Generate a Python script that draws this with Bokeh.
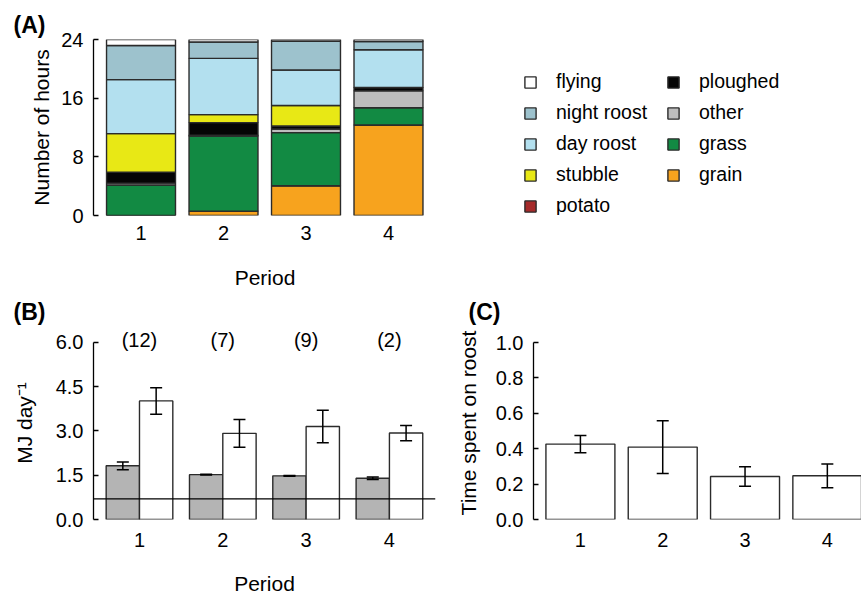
from bokeh.plotting import figure
from bokeh.models import (ColumnDataSource, FixedTicker, NumeralTickFormatter, Legend,
                          LegendItem, Whisker, TeeHead, Span, LabelSet)
from bokeh.core.properties import value
from bokeh.layouts import column, row
from bokeh.embed import file_html
from bokeh.resources import INLINE

FONT = "Liberation Sans"

# ---------------- data ----------------
periods = [1, 2, 3, 4]
period_ticks = [1, 2, 3, 4]

# Panel A: hours per habitat (stacked bottom -> top)
grain = [0.0, 0.6, 4.05, 12.35]
potato = [0.0, 0.0, 0.0, 0.0]
grass = [4.15, 10.25, 7.25, 2.35]
other = [0.27, 0.10, 0.50, 2.30]
ploughed = [1.50, 1.72, 0.40, 0.45]
stubble = [5.24, 1.08, 2.80, 0.0]
day_roost = [7.37, 7.68, 4.84, 5.15]
night_roost = [4.66, 2.22, 3.93, 1.13]
flying = [0.81, 0.35, 0.23, 0.27]
hour_ticks = [0, 8, 16, 24]

stack_keys = ["grain", "potato", "grass", "other", "ploughed", "stubble",
              "day_roost", "night_roost", "flying"]
stack_names = ["grain", "potato", "grass", "other", "ploughed", "stubble",
               "day roost", "night roost", "flying"]
stack_colors = ["#f7a31e", "#a52a2a", "#128a43", "#bdbdbd", "#050505", "#e8e815",
                "#b3e0ef", "#9dc2cd", "#ffffff"]
legend1_names = ["flying", "night roost", "day roost", "stubble", "potato"]
legend2_names = ["ploughed", "other", "grass", "grain"]

# Panel B: energy (MJ/day)
intake_mean = [1.82, 1.52, 1.48, 1.40]
intake_se = [0.13, 0.015, 0.015, 0.04]
expend_mean = [4.02, 2.92, 3.15, 2.93]
expend_se = [0.45, 0.47, 0.55, 0.26]
threshold = 0.70
sample_sizes = ["(12)", "(7)", "(9)", "(2)"]
mj_ticks = [0.0, 1.5, 3.0, 4.5, 6.0]

# Panel C: time spent on roost
roost_mean = [0.426, 0.409, 0.243, 0.247]
roost_se = [0.049, 0.149, 0.055, 0.067]
roost_ticks = [0.0, 0.2, 0.4, 0.6, 0.8, 1.0]

BAR_LINE = "#2b2b2b"


def base_style(p):
    p.toolbar_location = None
    p.outline_line_color = None
    p.xgrid.visible = False
    p.ygrid.visible = False
    p.background_fill_color = "white"
    p.border_fill_color = "white"
    for ax in p.xaxis:
        ax.axis_line_color = None
        ax.major_tick_line_color = None
        ax.minor_tick_line_color = None
        ax.ticker = FixedTicker(ticks=period_ticks)
        ax.major_label_text_font = FONT
        ax.major_label_text_font_size = "20px"
        ax.major_label_text_color = "black"
        ax.axis_label_text_font = FONT
        ax.axis_label_text_font_size = "21px"
        ax.axis_label_text_font_style = "normal"
        ax.axis_label_text_color = "black"
    for ax in p.yaxis:
        ax.axis_line_color = "black"
        ax.axis_line_width = 1.3
        ax.major_tick_line_color = "black"
        ax.major_tick_line_width = 1.3
        ax.major_tick_in = 5
        ax.major_tick_out = 0
        ax.minor_tick_line_color = None
        ax.major_label_text_font = FONT
        ax.major_label_text_font_size = "20px"
        ax.major_label_text_color = "black"
        ax.major_label_standoff = 10
        ax.axis_label_text_font = FONT
        ax.axis_label_text_font_size = "21px"
        ax.axis_label_text_font_style = "normal"
        ax.axis_label_text_color = "black"


def panel_title(p, text, offset, standoff):
    p.title.text = text
    p.title.align = "left"
    p.title.offset = offset
    p.title.standoff = standoff
    p.title.text_font = FONT
    p.title.text_font_size = "23px"
    p.title.text_font_style = "bold"
    p.title.text_color = "black"


TOP_H = 291
BOT_H = 307

# ---------------- Panel A ----------------
pA = figure(width=440, height=TOP_H, output_backend="svg", toolbar_location=None,
            x_range=(0.424, 4.582), y_range=(0, 24),
            min_border_left=93, min_border_right=4, min_border_top=39, min_border_bottom=75)
base_style(pA)
srcA = ColumnDataSource(dict(x=periods, grain=grain, potato=potato, grass=grass, other=other,
                             ploughed=ploughed, stubble=stubble, day_roost=day_roost,
                             night_roost=night_roost, flying=flying))
pA.vbar_stack(stack_keys, x="x", width=0.836, color=stack_colors, source=srcA,
              line_color=BAR_LINE, line_width=1.4)
pA.yaxis.ticker = FixedTicker(ticks=hour_ticks)
pA.yaxis.axis_label = "Number of hours"
pA.yaxis.axis_label_standoff = 5
pA.xaxis.axis_label = "Period"
pA.xaxis.major_label_standoff = 4
pA.xaxis.axis_label_standoff = 23
panel_title(pA, "(A)", -80, 4)

# ---------------- Legend area (same stacked data, renderers hidden; legend only) ----------------
pL = figure(width=421, height=TOP_H, output_backend="svg", toolbar_location=None,
            x_range=(6, 7), y_range=(26, 27), x_axis_type=None, y_axis_type=None,
            min_border_left=0, min_border_right=0, min_border_top=39, min_border_bottom=75)
pL.outline_line_color = None
pL.xgrid.visible = False
pL.ygrid.visible = False
rendL = pL.vbar_stack(stack_keys, x="x", width=0.836, color=stack_colors, source=srcA,
                      line_color=BAR_LINE, line_width=1.4)
for r in rendL:
    r.visible = False
rmap = dict(zip(stack_names, rendL))

common_leg = dict(label_text_font=FONT, label_text_font_size="19.5px", label_text_color="black",
                  glyph_width=14, glyph_height=14, label_standoff=19, label_height=23,
                  spacing=8, padding=0, margin=0, border_line_color=None,
                  background_fill_alpha=0, inactive_fill_alpha=0)
leg1 = Legend(items=[LegendItem(label=n, renderers=[rmap[n]]) for n in legend1_names],
              location=(83, -2), **common_leg)
leg2 = Legend(items=[LegendItem(label=n, renderers=[rmap[n]]) for n in legend2_names],
              location=(226, 29), **common_leg)
pL.add_layout(leg1)
pL.add_layout(leg2)

# ---------------- Panel B ----------------
pB = figure(width=440, height=BOT_H, output_backend="svg", toolbar_location=None,
            x_range=(0.448, 4.553), y_range=(0, 6.542),
            min_border_left=93, min_border_right=5, min_border_top=35, min_border_bottom=79)
base_style(pB)
xg = [x - 0.2 for x in periods]
xw = [x + 0.2 for x in periods]
srcB1 = ColumnDataSource(dict(x=xg, top=intake_mean,
                              upper=[m + s for m, s in zip(intake_mean, intake_se)],
                              lower=[m - s for m, s in zip(intake_mean, intake_se)]))
srcB2 = ColumnDataSource(dict(x=xw, top=expend_mean,
                              upper=[m + s for m, s in zip(expend_mean, expend_se)],
                              lower=[m - s for m, s in zip(expend_mean, expend_se)]))
pB.vbar(x="x", top="top", width=0.4, source=srcB1, fill_color="#b4b4b4",
        line_color=BAR_LINE, line_width=1.4)
pB.vbar(x="x", top="top", width=0.4, source=srcB2, fill_color="white",
        line_color=BAR_LINE, line_width=1.4)
for s in (srcB1, srcB2):
    pB.add_layout(Whisker(source=s, base="x", upper="upper", lower="lower", level="overlay",
                          line_color="black", line_width=1.5,
                          upper_head=TeeHead(size=12, line_width=1.5, line_color="black"),
                          lower_head=TeeHead(size=12, line_width=1.5, line_color="black")))
pB.add_layout(Span(location=threshold, dimension="width", line_color="black", line_width=1.3))
srcN = ColumnDataSource(dict(x=periods, y=[mj_ticks[-1]] * 4, t=sample_sizes))
pB.add_layout(LabelSet(x="x", y="y", text="t", source=srcN, y_offset=2,
                       text_font=value(FONT), text_font_size=value("20px"), text_align="center",
                       text_baseline="middle", text_color="black"))
pB.yaxis.ticker = FixedTicker(ticks=mj_ticks)
pB.yaxis.bounds = (mj_ticks[0], mj_ticks[-1])
pB.yaxis.formatter = NumeralTickFormatter(format="0.0")
pB.yaxis.axis_label = "MJ day\u207b\u00b9"
pB.yaxis.axis_label_standoff = 17
pB.xaxis.axis_label = "Period"
pB.xaxis.major_label_standoff = 7
pB.xaxis.axis_label_standoff = 22
panel_title(pB, "(B)", -80, 4)

# ---------------- Panel C ----------------
pC = figure(width=421, height=BOT_H, output_backend="svg", toolbar_location=None,
            x_range=(0.430, 4.415), y_range=(0, 1.0904),
            min_border_left=93, min_border_right=0, min_border_top=35, min_border_bottom=79)
base_style(pC)
srcC = ColumnDataSource(dict(x=periods, top=roost_mean,
                             upper=[m + s for m, s in zip(roost_mean, roost_se)],
                             lower=[m - s for m, s in zip(roost_mean, roost_se)]))
pC.vbar(x="x", top="top", width=0.838, source=srcC, fill_color="white",
        line_color=BAR_LINE, line_width=1.4)
pC.add_layout(Whisker(source=srcC, base="x", upper="upper", lower="lower", level="overlay",
                      line_color="black", line_width=1.5,
                      upper_head=TeeHead(size=12, line_width=1.5, line_color="black"),
                      lower_head=TeeHead(size=12, line_width=1.5, line_color="black")))
pC.yaxis.ticker = FixedTicker(ticks=roost_ticks)
pC.yaxis.bounds = (roost_ticks[0], roost_ticks[-1])
pC.yaxis.formatter = NumeralTickFormatter(format="0.0")
pC.yaxis.axis_label = "Time spent on roost"
pC.yaxis.axis_label_standoff = 13
pC.xaxis.major_label_standoff = 7
panel_title(pC, "(C)", -65, 4)

layout = column(row(pA, pL, spacing=0), row(pB, pC, spacing=0), spacing=0)
open("out.html", "w").write(file_html(layout, INLINE))
